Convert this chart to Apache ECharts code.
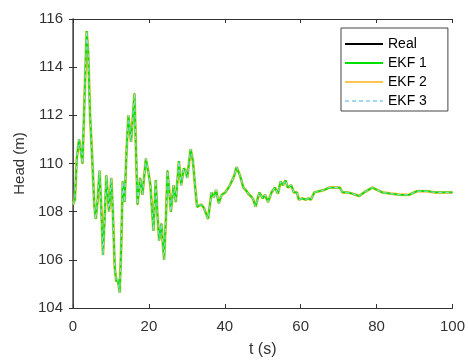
<!DOCTYPE html>
<html>
<head>
<meta charset="utf-8">
<script src="https://cdn.jsdelivr.net/npm/echarts@6/dist/echarts.min.js"></script>
<style>
  html, body {margin: 0; padding: 0; background: #fff;}
  #chart {width: 468px; height: 363px;}
</style>
</head>
<body>
<div id="chart"></div>
<script>
// time stamps (s) and head readings (m)
const times = [
  0, 0.5, 1.0, 1.6, 2.0, 2.5, 3.0, 3.6, 4.0, 4.5,
  5.1, 5.6, 6.0, 6.5, 7.0, 7.5, 7.9, 8.4, 8.8, 9.2,
  9.5, 10.1, 10.5, 11.0, 11.4, 11.8, 12.3, 12.7, 13.1, 13.6,
  14.1, 14.6, 15.3, 15.8, 16.2, 16.6, 17.0, 17.7, 18.3, 19.2,
  19.8, 20.4, 21.2, 21.8, 22.2, 22.7, 23.3, 24.0, 24.5, 24.9,
  25.4, 25.8, 26.5, 27.1, 27.9, 28.5, 29.2, 29.7, 30.1, 31.0,
  31.6, 32.2, 32.7, 33.2, 33.8, 34.5, 34.9, 35.6, 36.0, 36.5,
  37.1, 37.7, 38.4, 39.2, 40.1, 41.0, 41.8, 42.5, 43.1, 44.0,
  44.9, 45.5, 46.2, 47.1, 47.5, 48.1, 48.4, 49.1, 50.0, 50.6,
  51.4, 52.3, 53.2, 54.0, 54.7, 55.3, 56.0, 56.6, 57.5, 58.2,
  59.0, 59.5, 60.4, 61.3, 62.1, 62.7, 63.6, 64.9, 66.2, 67.5,
  68.8, 70.3, 71.0, 72.3, 73.6, 75.4, 76.7, 78.9, 80.2, 81.5,
  83.7, 86.3, 88.5, 90.7, 93.3, 95.5, 97.6, 100
]
const head = [
  108.3, 108.5, 110.2, 111.0, 110.6, 110.0, 112.5, 115.5, 114.6, 112.0,
  110.1, 108.3, 107.7, 108.5, 109.7, 108.0, 106.2, 108.0, 109.5, 108.6,
  108.0, 109.4, 108.0, 105.7, 105.1, 105.2, 104.65, 106.5, 109.25, 108.4,
  110.5, 112.0, 110.9, 112.0, 112.9, 110.5, 108.3, 109.4, 108.7, 110.2,
  109.7, 109.1, 107.2, 109.3, 108.0, 106.8, 107.5, 106.0, 107.8, 109.7,
  108.8, 108.0, 109.1, 108.4, 110.1, 109.1, 109.8, 109.7, 109.4, 110.6,
  110.1, 109.0, 108.2, 108.15, 108.3, 108.15, 108.1, 107.7, 108.2, 108.8,
  108.6, 108.9, 108.35, 108.7, 108.8, 109.0, 109.25, 109.5, 109.85, 109.5,
  109.0, 108.9, 108.75, 108.6, 108.5, 108.2, 108.2, 108.8, 108.55, 108.7,
  108.4, 108.8, 109.0, 108.75, 109.25, 109.1, 109.3, 109.0, 109.1, 108.8,
  108.8, 108.5, 108.55, 108.5, 108.55, 108.5, 108.8, 108.85, 108.9, 109.0,
  109.0, 109.0, 108.8, 108.8, 108.75, 108.65, 108.8, 109.0, 108.9, 108.8,
  108.75, 108.7, 108.7, 108.85, 108.85, 108.8, 108.8, 108.8
]
const seriesNames = ['Real', 'EKF 1', 'EKF 2', 'EKF 3']

const pairs = times.map((t, i) => [t, head[i]])

const axisColor = '#333'
const labelStyle = {color: '#333', fontSize: 15, fontFamily: 'Liberation Sans'}

const myChart = echarts.init(document.getElementById('chart'))
myChart.setOption({
  animation: false,
  backgroundColor: '#fff',
  grid: {left: 73, right: 12, top: 19, bottom: 52},
  legend: {
    orient: 'vertical',
    left: 341, top: 28,
    padding: [9, 21, 3, 3],
    itemWidth: 38, itemHeight: 14, itemGap: 5,
    backgroundColor: '#fff',
    borderColor: '#444', borderWidth: 1, borderRadius: 0,
    itemStyle: {opacity: 0, borderWidth: 0},
    textStyle: {color: '#000', fontSize: 14, fontFamily: 'Liberation Sans'},
    data: seriesNames
  },
  xAxis: [{
    type: 'value', min: 0, max: 100, interval: 20,
    name: 't (s)', nameLocation: 'middle', nameGap: 34,
    nameTextStyle: {color: '#333', fontSize: 16, fontFamily: 'Liberation Sans'},
    axisLine: {lineStyle: {color: axisColor}},
    axisTick: {inside: true, length: 4, lineStyle: {color: axisColor}},
    axisLabel: Object.assign({margin: 11}, labelStyle),
    splitLine: {show: false}
  }, {
    type: 'value', min: 0, max: 100, interval: 20, position: 'top',
    axisLine: {lineStyle: {color: axisColor}},
    axisTick: {inside: true, length: 4, lineStyle: {color: axisColor}},
    axisLabel: {show: false},
    splitLine: {show: false}
  }],
  yAxis: [{
    type: 'value', min: 104, max: 116, interval: 2,
    name: 'Head (m)', nameLocation: 'middle', nameGap: 40,
    nameTextStyle: {color: '#333', fontSize: 15, fontFamily: 'Liberation Sans'},
    axisLine: {show: true, lineStyle: {color: axisColor}},
    axisTick: {show: true, inside: true, length: 4, lineStyle: {color: axisColor}},
    axisLabel: Object.assign({margin: 10}, labelStyle),
    splitLine: {show: false}
  }, {
    type: 'value', min: 104, max: 116, interval: 2, position: 'right',
    axisLine: {show: true, lineStyle: {color: '#555', width: 1.5}},
    axisTick: {show: true, inside: true, length: 4, lineStyle: {color: axisColor}},
    axisLabel: {show: false},
    splitLine: {show: false}
  }],
  series: [{
    name: 'Real', type: 'line', data: pairs, symbol: 'none', z: 1,
    lineStyle: {color: '#000', width: 1}, itemStyle: {color: '#000'}
  }, {
    name: 'EKF 1', type: 'line', data: pairs, symbol: 'none', z: 3,
    lineStyle: {color: '#00e000', width: 1.8}, itemStyle: {color: '#00e000'}
  }, {
    name: 'EKF 2', type: 'line', data: pairs, symbol: 'none', z: 2,
    lineStyle: {color: '#ffc552', width: 3}, itemStyle: {color: '#ffc552'}
  }, {
    name: 'EKF 3', type: 'line', data: pairs, symbol: 'none', z: 4,
    lineStyle: {color: '#9fd8f2', width: 1, type: [4, 3]}, itemStyle: {color: '#9fd8f2'}
  }]
})
</script>
</body>
</html>
